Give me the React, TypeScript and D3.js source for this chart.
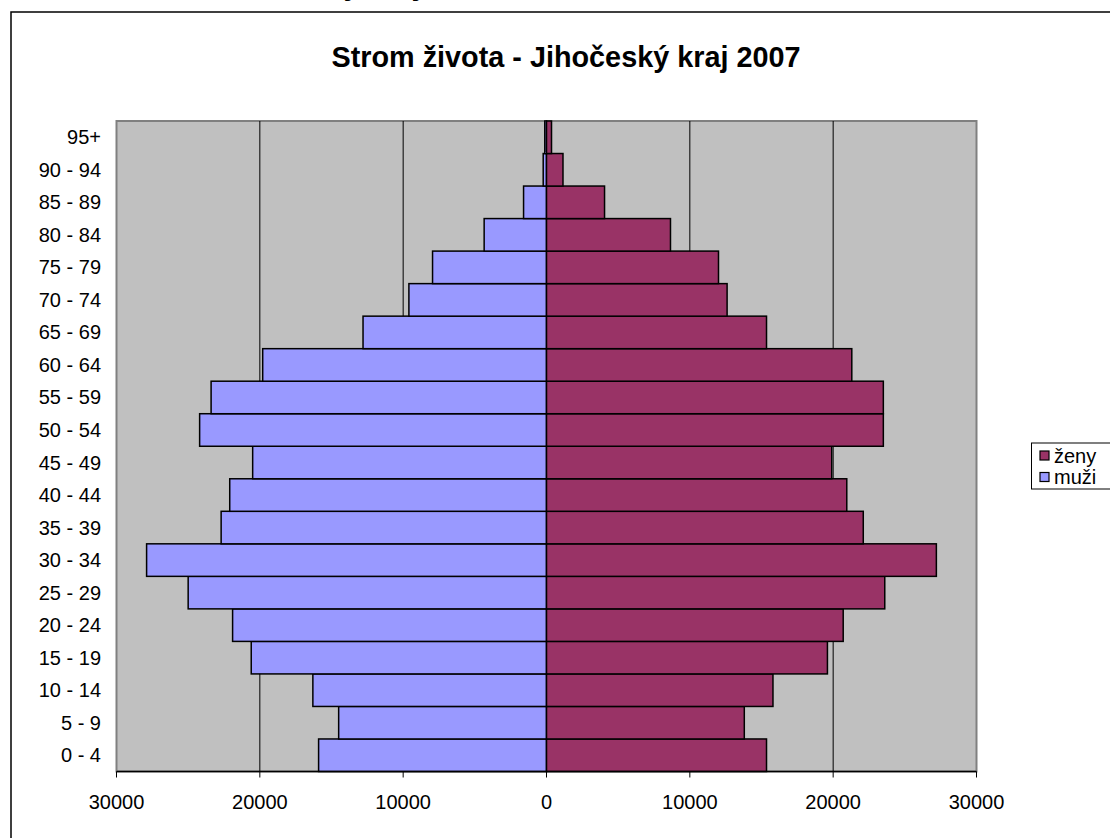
import React from 'react';
import * as d3 from 'd3';

const ageGroups = ['0 - 4', '5 - 9', '10 - 14', '15 - 19', '20 - 24', '25 - 29', '30 - 34', '35 - 39', '40 - 44', '45 - 49',
  '50 - 54', '55 - 59', '60 - 64', '65 - 69', '70 - 74', '75 - 79', '80 - 84', '85 - 89', '90 - 94', '95+'];
const muzi = [15900, 14500, 16300, 20600, 21900, 25000, 27900, 22700, 22100, 20500,
  24200, 23400, 19800, 12800, 9600, 7950, 4350, 1600, 230, 120];
const zeny = [15350, 13800, 15800, 19600, 20700, 23600, 27200, 22100, 20950, 19900,
  23500, 23500, 21300, 15350, 12600, 12000, 8650, 4050, 1150, 350];
const xTicks = [-30000, -20000, -10000, 0, 10000, 20000, 30000];
const legendItems = [{ label: 'ženy', color: '#993366' }, { label: 'muži', color: '#9999FF' }];

const W = 1110, H = 838;
const left = 116.5, right = 976.5, top = 121, bottom = 771.5;
const font = 'Arial, "Liberation Sans", sans-serif';

const App = () => {
  const x = d3.scaleLinear().domain([-30000, 30000]).range([left, right]);
  const y = d3.scaleBand().domain([...ageGroups].reverse()).range([top, bottom]).padding(0);
  const bh = y.bandwidth();

  return (
    <svg width={W} height={H} style={{ position: 'absolute', left: 0, top: 0 }} fontFamily={font}>
      <rect x={0} y={0} width={W} height={H} fill="#fff" />
      {/* line of text above the chart, cut off by the picture edge */}
      <text x={215} y={-5} fontSize={30} fontWeight="bold" fill="#000">Jihočeský kraj</text>
      <rect x={11} y={12} width={W + 20} height={H + 20} fill="none" stroke="#000" strokeWidth={1.5} />
      <text x={566} y={57} textAnchor="middle" dominantBaseline="central" fontSize={28.8} fontWeight="bold">
        Strom života - Jihočeský kraj 2007
      </text>

      <rect x={left} y={top} width={right - left} height={bottom - top} fill="#C0C0C0" stroke="#808080" strokeWidth={2} />
      {xTicks.filter(t => Math.abs(t) !== 30000 && t !== 0).map(t => (
        <line key={t} x1={x(t)} x2={x(t)} y1={top} y2={bottom} stroke="#000" strokeWidth={1} />
      ))}

      {ageGroups.map((g, i) => (
        <g key={g}>
          <rect x={x(-muzi[i])} y={y(g)} width={x(0) - x(-muzi[i])} height={bh}
            fill="#9999FF" stroke="#000" strokeWidth={1.5} />
          <rect x={x(0)} y={y(g)} width={x(zeny[i]) - x(0)} height={bh}
            fill="#993366" stroke="#000" strokeWidth={1.5} />
        </g>
      ))}

      <line x1={left} x2={right} y1={bottom} y2={bottom} stroke="#000" strokeWidth={1.5} />
      {xTicks.map(t => (
        <g key={t}>
          <line x1={x(t)} x2={x(t)} y1={bottom} y2={bottom + 6} stroke="#000" strokeWidth={1} />
          <text x={x(t)} y={802} textAnchor="middle" dominantBaseline="central" fontSize={20}>
            {Math.abs(t)}
          </text>
        </g>
      ))}
      {ageGroups.map(g => (
        <text key={g} x={101} y={y(g)! + bh / 2} textAnchor="end" dominantBaseline="central" fontSize={20}>{g}</text>
      ))}

      <rect x={1031.5} y={443} width={100} height={46} fill="#fff" stroke="#000" strokeWidth={1} />
      {legendItems.map((d, i) => (
        <g key={d.label}>
          <rect x={1040} y={451 + i * 21.5} width={9} height={9} fill={d.color} stroke="#000" strokeWidth={1.2} />
          <text x={1054} y={455.5 + i * 21.5} dominantBaseline="central" fontSize={20}>{d.label}</text>
        </g>
      ))}
    </svg>
  );
};

export default App;
